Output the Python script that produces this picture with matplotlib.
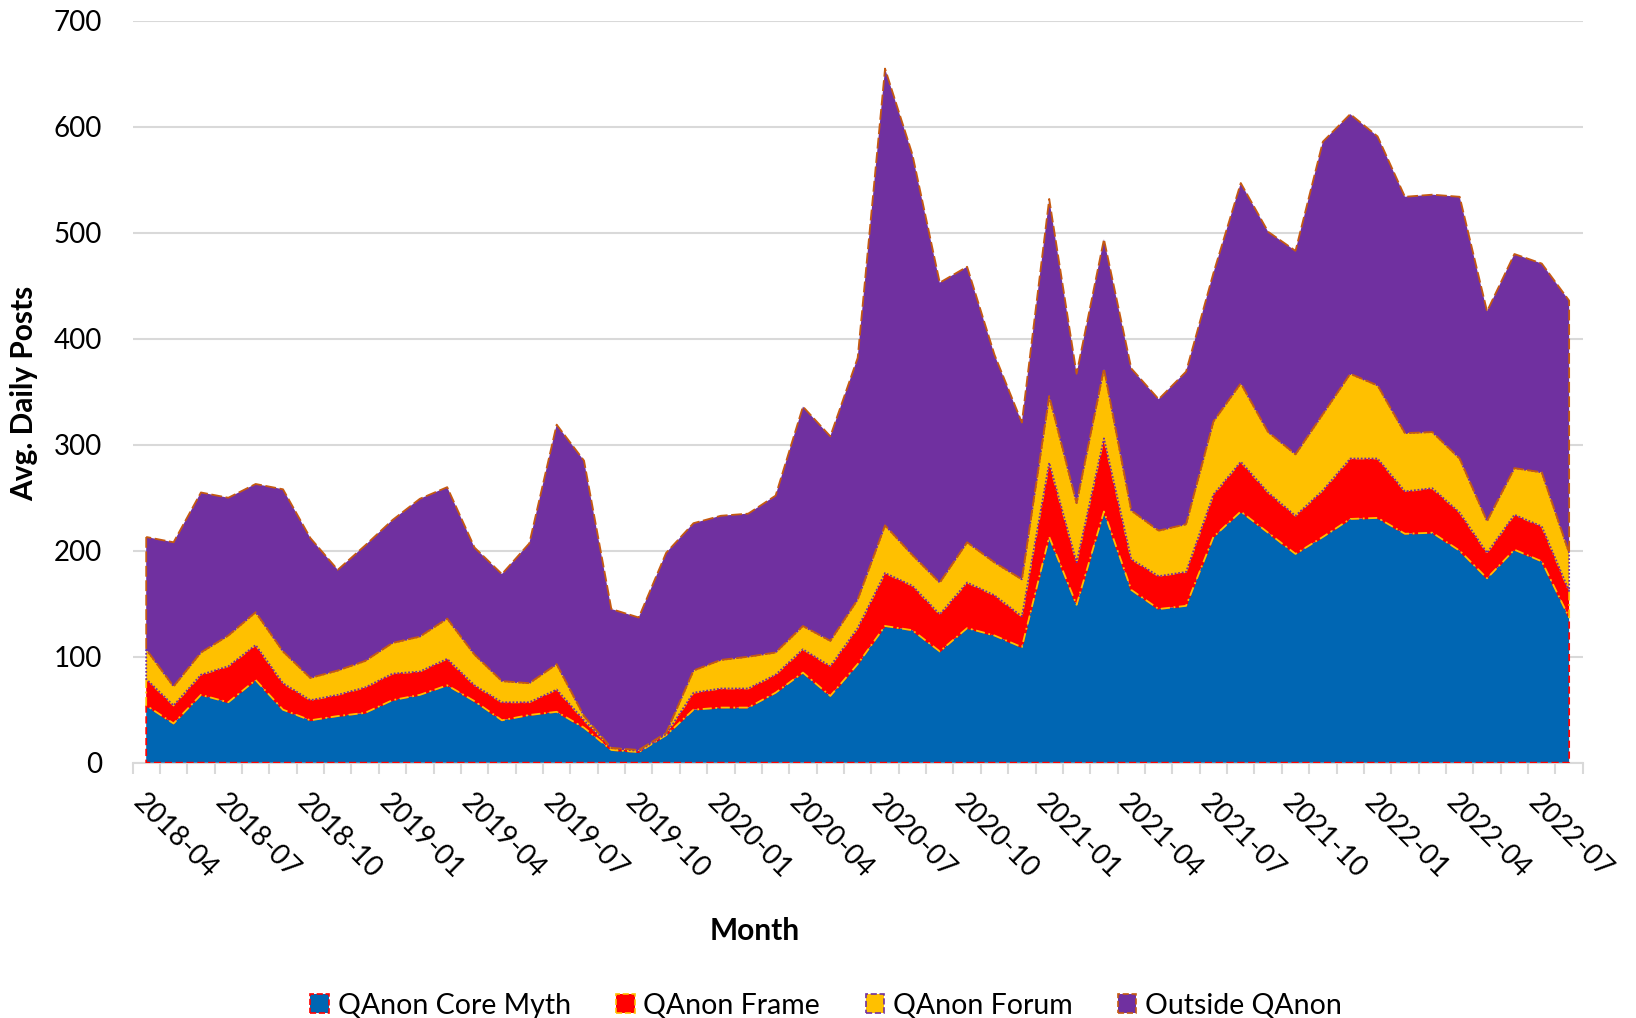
import numpy as np
import pandas as pd
import matplotlib
matplotlib.use("Agg")
import matplotlib.pyplot as plt
from matplotlib.patches import Patch

plt.rcParams['font.family'] = ['Lato', 'DejaVu Sans']

# months 2018-04 .. 2022-08
months = [str(p) for p in pd.period_range('2018-04', '2022-08', freq='M')]

core_myth = [54, 37, 64, 57, 78, 50, 40, 44, 47, 59, 64, 73, 58, 40, 45, 48, 33, 12, 10, 26,
             50, 52, 52, 66, 85, 63, 93, 129, 125, 105, 127, 120, 109, 213, 149, 237, 163, 145,
             148, 213, 237, 217, 197, 213, 230, 231, 216, 217, 200, 174, 201, 190, 137]
frame = [25, 17, 19, 34, 33, 25, 19, 20, 24, 25, 22, 25, 15, 17, 12, 21, 7, 2, 1, 1,
         16, 18, 18, 17, 22, 28, 34, 50, 42, 35, 43, 38, 29, 70, 40, 69, 29, 31,
         32, 40, 47, 38, 36, 44, 57, 56, 40, 42, 36, 24, 33, 33, 25]
forum = [28, 18, 21, 29, 31, 30, 21, 23, 25, 29, 33, 38, 29, 20, 18, 24, 4, 0, 1, 1,
         21, 27, 30, 21, 22, 24, 27, 45, 29, 30, 38, 31, 35, 63, 56, 66, 46, 43,
         45, 69, 74, 57, 58, 72, 80, 69, 55, 53, 51, 30, 44, 51, 36]
outside = [106, 136, 151, 130, 121, 153, 132, 95, 109, 116, 130, 124, 101, 101, 132, 226, 241, 131, 125, 170,
           139, 136, 135, 148, 207, 193, 228, 431, 378, 283, 260, 196, 148, 186, 122, 122, 134, 124,
           144, 140, 189, 189, 192, 257, 245, 235, 223, 224, 247, 198, 202, 197, 238]

names = ['QAnon Core Myth', 'QAnon Frame', 'QAnon Forum', 'Outside QAnon']
fills = ['#0066B3', '#FF0000', '#FFC000', '#7030A0']
edges = ['#FF0000', '#FFC000', '#7030A0', '#C55A11']
styles = [(0, (4, 2)), (0, (5, 2, 1, 2)), (0, (1, 1)), (0, (6, 2))]

fig = plt.figure(figsize=(16.36, 10.18), dpi=100)
ax = fig.add_axes([0.081, 0.2508, 0.8865, 0.7287])

x = np.arange(len(months))
polys = ax.stackplot(x, core_myth, frame, forum, outside, colors=fills, zorder=3)
for p, ec, ls in zip(polys, edges, styles):
    p.set_edgecolor(ec)
    p.set_linewidth(1.3)
    p.set_linestyle(ls)

ax.set_xlim(-0.5, len(months) - 0.5)
ax.set_ylim(0, 700)
ax.set_yticks(range(0, 701, 100))
ax.yaxis.grid(True, color='#D9D9D9', linewidth=1.5, zorder=0)
ax.set_axisbelow(True)
for s in ['top', 'right', 'left']:
    ax.spines[s].set_visible(False)
ax.spines['bottom'].set_color('#D9D9D9')
ax.spines['bottom'].set_linewidth(1.5)

# category boundary tick marks, labels every 3 months
ax.set_xticks(np.arange(-0.5, len(months), 1.0), minor=True)
ax.set_xticks(x[::3])
ax.set_xticklabels(months[::3], rotation=-45, ha='left', va='top',
                   rotation_mode='anchor', fontsize=20)
ax.tick_params(axis='x', which='major', length=0, pad=19)
ax.tick_params(axis='x', which='minor', length=8, width=1.5, color='#D9D9D9')
ax.tick_params(axis='y', length=0, pad=22, labelsize=20)

fig.text(0.0145, 0.614, 'Avg. Daily Posts', rotation=90, ha='center', va='center',
         fontsize=21.5, fontweight='bold')
fig.text(0.4615, 0.0855, 'Month', ha='center', va='center', fontsize=21.5, fontweight='bold')

handles = [Patch(facecolor=f, edgecolor=e, linestyle='--', linewidth=1.2)
           for f, e in zip(fills, edges)]
fig.legend(handles, names, loc='center', bbox_to_anchor=(0.505, 0.012), ncol=4,
           frameon=False, fontsize=20.5, handlelength=0.65, handleheight=0.65,
           handletextpad=0.3, columnspacing=1.6)

fig.savefig('out.png', dpi=100)
